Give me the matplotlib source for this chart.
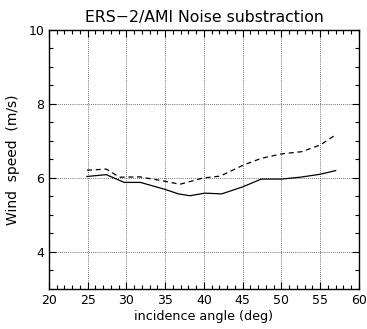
import numpy as np
import matplotlib
matplotlib.use("Agg")
import matplotlib.pyplot as plt
from matplotlib.ticker import MultipleLocator

# Values
angle_solid = [24.9, 27.4, 29.7, 31.8, 35.0, 36.7, 38.2, 40.1, 42.3, 45.0, 47.4, 50.0, 52.4, 55.0, 57.0]
speed_solid = [6.04, 6.09, 5.88, 5.88, 5.69, 5.57, 5.52, 5.59, 5.57, 5.76, 5.97, 5.97, 6.02, 6.10, 6.20]

angle_dashed = [24.9, 27.4, 29.1, 31.7, 34.5, 36.9, 39.9, 42.1, 45.1, 47.4, 50.0, 52.6, 55.0, 57.1]
speed_dashed = [6.21, 6.24, 6.02, 6.03, 5.93, 5.83, 6.00, 6.05, 6.35, 6.53, 6.65, 6.71, 6.89, 7.18]

fig = plt.figure(figsize=(3.67, 3.29), dpi=100)
ax = fig.add_axes([0.1335, 0.1216, 0.8445, 0.7874])

ax.plot(angle_solid, speed_solid, color="black", lw=0.9, ls="-")
ax.plot(angle_dashed, speed_dashed, color="black", lw=0.9, ls=(0, (4, 3)))

ax.set_xlim(20, 60)
ax.set_ylim(3, 10)
ax.xaxis.set_major_locator(MultipleLocator(5))
ax.xaxis.set_minor_locator(MultipleLocator(1))
ax.yaxis.set_major_locator(MultipleLocator(2))
ax.yaxis.set_minor_locator(MultipleLocator(0.5))
ax.tick_params(which="both", direction="in", top=True, right=True,
               labelsize=9, width=0.8)
ax.tick_params(which="major", length=5)
ax.tick_params(which="minor", length=3)
ax.grid(which="major", color="#444444", ls=(0, (1, 1.5)), lw=0.6)
for s in ax.spines.values():
    s.set_linewidth(1.0)

ax.set_title("ERS\u22122/AMI Noise substraction", fontsize=11.3, pad=6)
ax.set_xlabel("incidence angle (deg)", fontsize=9.2, labelpad=2)
ax.set_ylabel("Wind  speed  (m/s)", fontsize=10, labelpad=6)

fig.savefig("out.png", dpi=100)
